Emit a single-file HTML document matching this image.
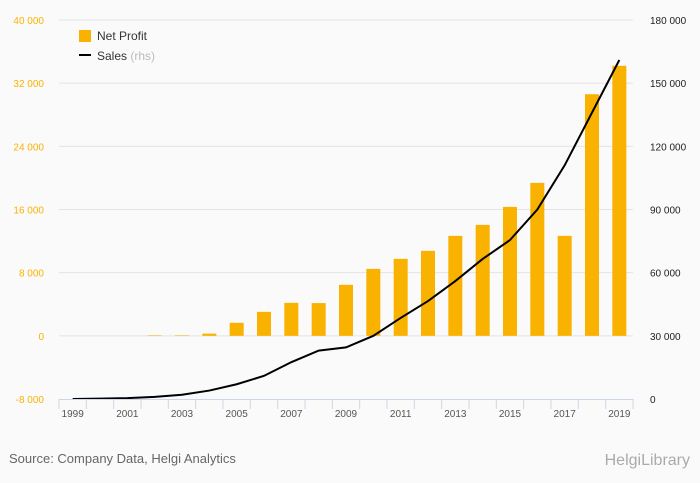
<!DOCTYPE html>
<html><head><meta charset="utf-8"><style>
body{margin:0;background:#fafafa;font-family:"Liberation Sans",sans-serif}
svg{display:block}
</style></head><body>
<svg id="c" width="700" height="483" xmlns="http://www.w3.org/2000/svg">
<rect width="700" height="483" fill="#fafafa"/>
<g id="grid"></g><g id="bars"></g><g id="line"></g><g id="axes"></g>
<g>
<rect x="79" y="30" width="12" height="12" fill="#f9b200"/>
<text x="97" y="40" font-size="12" fill="#333">Net Profit</text>
<rect x="79" y="54" width="12" height="2" fill="#000"/>
<text x="97" y="60" font-size="12" fill="#333">Sales <tspan fill="#bbb">(rhs)</tspan></text>
</g>
<text x="9" y="463" font-size="13" fill="#666">Source: Company Data, Helgi Analytics</text>
<text x="690" y="465" font-size="16" fill="#aaa" text-anchor="end">HelgiLibrary</text>
</svg>
<script>
const years=[1999,2000,2001,2002,2003,2004,2005,2006,2007,2008,2009,2010,2011,2012,2013,2014,2015,2016,2017,2018,2019];
const netProfit=[0,0,0,60,60,280,1650,3040,4180,4150,6460,8480,9750,10760,12660,14050,16330,19370,12660,30600,34200];
const sales=[0,200,400,1000,2000,4000,7000,11000,17500,23000,24500,30000,38500,46500,56000,66500,75500,90000,111000,136000,161000];
const leftTicks=[-8000,0,8000,16000,24000,32000,40000];
const rightTicks=[0,30000,60000,90000,120000,150000,180000];
const NS="http://www.w3.org/2000/svg";
const x0=59,x1=633,yTop=20,yBot=399;
const step=(x1-x0)/years.length;
const xc=i=>x0+step*(i+0.5);
const yL=v=>yBot-(v+8000)/48000*(yBot-yTop);
const yR=v=>yBot-v/180000*(yBot-yTop);
function el(t,a,p){const e=document.createElementNS(NS,t);for(const k in a)e.setAttribute(k,a[k]);document.getElementById(p).appendChild(e);return e;}
leftTicks.forEach((v,i)=>{
 if(i>0){const g=el('line',{x1:x0,x2:x1,y1:yL(v),y2:yL(v),stroke:'#e4e4e4','stroke-width':1},'grid');
 
 }
 const t=el('text',{x:44,y:yL(v)+4,'font-size':10,fill:'#f9b200','text-anchor':'end'},'axes');
 t.textContent=v.toLocaleString('en-US').replace(/,/g,' ').replace('-','-');
 
 
});
rightTicks.forEach(v=>{
 const t=el('text',{x:650,y:yR(v)+4,'font-size':10,fill:'#222'},'axes');
 t.textContent=v.toLocaleString('en-US').replace(/,/g,' ');
 
 
});
const ax=el('line',{x1:x0,x2:x1,y1:yBot+0.5,y2:yBot+0.5,stroke:'#ccd6eb'},'axes');


for(let i=0;i<=years.length;i++){
 const tk=el('line',{x1:x0+step*i,x2:x0+step*i,y1:yBot,y2:yBot+10,stroke:'#ccd6eb'},'axes');
 
 
}
years.forEach((y,i)=>{
 if(i%2==0){const t=el('text',{x:xc(i),y:417,'font-size':10,fill:'#555','text-anchor':'middle'},'axes');
 t.textContent=y;
 
 }
 const v=netProfit[i];const top=Math.min(yL(v),yL(0)),h=Math.abs(yL(v)-yL(0));
 const b=el('rect',{x:xc(i)-7,y:top,width:14,height:h,fill:'#f9b200'},'bars');
 
 
});
const p=el('path',{d:sales.map((v,i)=>(i?'L':'M')+xc(i)+','+yR(v)).join(''),fill:'none',stroke:'#000','stroke-width':2},'line');


</script>
</body></html>
